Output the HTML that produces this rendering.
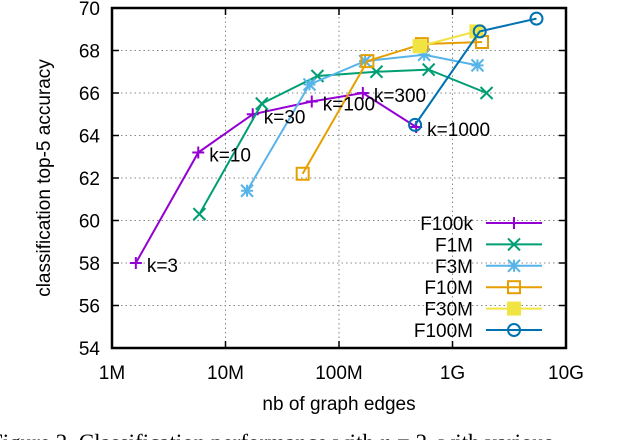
<!DOCTYPE html>
<html><head><meta charset="utf-8"><style>
html,body{margin:0;padding:0;background:#fff;overflow:hidden}
svg text{font-family:"Liberation Sans",sans-serif;fill:#000}
</style></head><body>
<svg id="chart" width="620" height="440" viewBox="0 0 620 440" xmlns="http://www.w3.org/2000/svg">
<g id="grid"></g>
<g id="axes"></g>
<g id="series"></g>
<g id="legend"></g>
<text x="339" y="410" font-size="19" text-anchor="middle">nb of graph edges</text>
<text transform="translate(50,178) rotate(-90)" font-size="19" text-anchor="middle">classification top-5 accuracy</text>
<text x="-10" y="450" font-size="23" style="font-family:'Liberation Serif',serif">Figure 2.   Classification performance with <tspan font-style="italic">n</tspan> = 2, with various</text>
</svg>
<script>
const xTickLogs=[6,7,8,9,10];
const xTickLabels=["1M","10M","100M","1G","10G"];
const yTicks=[54,56,58,60,62,64,66,68,70];
const seriesNames=["F100k","F1M","F3M","F10M","F30M","F100M"];
const seriesColors=["#9400d3","#009e73","#56b4e9","#e69f00","#f0e442","#0072b2"];
const seriesMarkers=["plus","cross","star","square","fsquare","circle"];
const f100kX=[6.21,6.76,7.24,7.76,8.21,8.68];
const f100kY=[58.0,63.2,65.0,65.6,66.0,64.4];
const f1mX=[6.77,7.32,7.81,8.33,8.79,9.30];
const f1mY=[60.3,65.5,66.8,67.0,67.1,66.0];
const f3mX=[7.19,7.74,8.23,8.75,9.22];
const f3mY=[61.4,66.4,67.5,67.8,67.3];
const f10mX=[7.68,8.25,8.73,9.26];
const f10mY=[62.2,67.5,68.3,68.4];
const f30mX=[8.71,9.21];
const f30mY=[68.2,68.9];
const f100mX=[8.67,9.24,9.74];
const f100mY=[64.5,68.9,69.5];
const kLabels=["k=3","k=10","k=30","k=100","k=300","k=1000"];
const kLabelX=[6.21,6.76,7.24,7.76,8.21,8.68];
const kLabelY=[58.0,63.2,65.0,65.6,66.0,64.4];

const L=112,R=566,T=8,B=348;
const xs=v=>L+(v-6)/4*(R-L);
const ys=v=>B-(v-54)/16*(B-T);
const NS="http://www.w3.org/2000/svg";
function mk(tag,attrs,parent){const e=document.createElementNS(NS,tag);for(const k in attrs)e.setAttribute(k,attrs[k]);parent.appendChild(e);return e;}
const grid=document.getElementById('grid'),axes=document.getElementById('axes'),ser=document.getElementById('series'),leg=document.getElementById('legend');

xTickLogs.forEach((v,i)=>{
  const x=xs(v);
  if(i>0&&i<xTickLogs.length-1){const g=mk('line',{x1:x,x2:x,y1:T,y2:B,stroke:'#888','stroke-width':1,'stroke-dasharray':'1.5,3'},grid);
  
  }
  mk('line',{x1:x,x2:x,y1:B,y2:B-7,stroke:'#000','stroke-width':1.5},axes);
  mk('line',{x1:x,x2:x,y1:T,y2:T+7,stroke:'#000','stroke-width':1.5},axes);
  const t=mk('text',{x:x,y:379,'font-size':19,'text-anchor':'middle'},axes);
  t.textContent=xTickLabels[i];
  
  
});
yTicks.forEach((v,i)=>{
  const y=ys(v);
  if(i>0&&i<yTicks.length-1){const g=mk('line',{x1:L,x2:R,y1:y,y2:y,stroke:'#888','stroke-width':1,'stroke-dasharray':'1.5,3'},grid);
  
  }
  mk('line',{x1:L,x2:L+7,y1:y,y2:y,stroke:'#000','stroke-width':1.5},axes);
  mk('line',{x1:R,x2:R-7,y1:y,y2:y,stroke:'#000','stroke-width':1.5},axes);
  const t=mk('text',{x:100,y:y+7,'font-size':19,'text-anchor':'end'},axes);
  t.textContent=v;
  
  
});
const frame=mk('rect',{x:L,y:T,width:R-L,height:B-T,fill:'none',stroke:'#000','stroke-width':2.5},axes);



function marker(type,x,y,c,p){
  const s=6;
  if(type==='plus'){mk('path',{d:`M${x-s} ${y}H${x+s}M${x} ${y-s}V${y+s}`,stroke:c,'stroke-width':2,fill:'none'},p);}
  else if(type==='cross'){mk('path',{d:`M${x-s} ${y-s}L${x+s} ${y+s}M${x-s} ${y+s}L${x+s} ${y-s}`,stroke:c,'stroke-width':2,fill:'none'},p);}
  else if(type==='star'){mk('path',{d:`M${x-s} ${y}H${x+s}M${x} ${y-s}V${y+s}M${x-s} ${y-s}L${x+s} ${y+s}M${x-s} ${y+s}L${x+s} ${y-s}`,stroke:c,'stroke-width':2,fill:'none'},p);}
  else if(type==='square'){mk('rect',{x:x-s,y:y-s,width:2*s,height:2*s,stroke:c,'stroke-width':2,fill:'none'},p);}
  else if(type==='fsquare'){mk('rect',{x:x-s-1,y:y-s-1,width:2*s+2,height:2*s+2,fill:c},p);}
  else {mk('circle',{cx:x,cy:y,r:s,stroke:c,'stroke-width':2,fill:'none'},p);}
}
const allX=[f100kX,f1mX,f3mX,f10mX,f30mX,f100mX];
const allY=[f100kY,f1mY,f3mY,f10mY,f30mY,f100mY];
allX.forEach((xa,si)=>{
  const g=mk('g',{},ser);
  
  
  const c=seriesColors[si];
  const pts=xa.map((v,i)=>xs(v)+','+ys(allY[si][i])).join(' ');
  mk('polyline',{points:pts,fill:'none',stroke:c,'stroke-width':2},g);
  xa.forEach((v,i)=>{
    const m=mk('g',{},g);
    
    
    marker(seriesMarkers[si],xs(v),ys(allY[si][i]),c,m);
  });
});
kLabels.forEach((s,i)=>{
  const t=mk('text',{x:xs(kLabelX[i])+11,y:ys(kLabelY[i])+9,'font-size':19},ser);
  t.textContent=s;
  
  
});
seriesNames.forEach((n,i)=>{
  const y=223+i*21.4;
  const g=mk('g',{},leg);
  
  
  const t=mk('text',{x:473,y:y+7,'font-size':19,'text-anchor':'end'},g);
  t.textContent=n;
  mk('line',{x1:486,x2:542,y1:y,y2:y,stroke:seriesColors[i],'stroke-width':2},g);
  marker(seriesMarkers[i],514,y,seriesColors[i],g);
});
</script>
</body></html>
